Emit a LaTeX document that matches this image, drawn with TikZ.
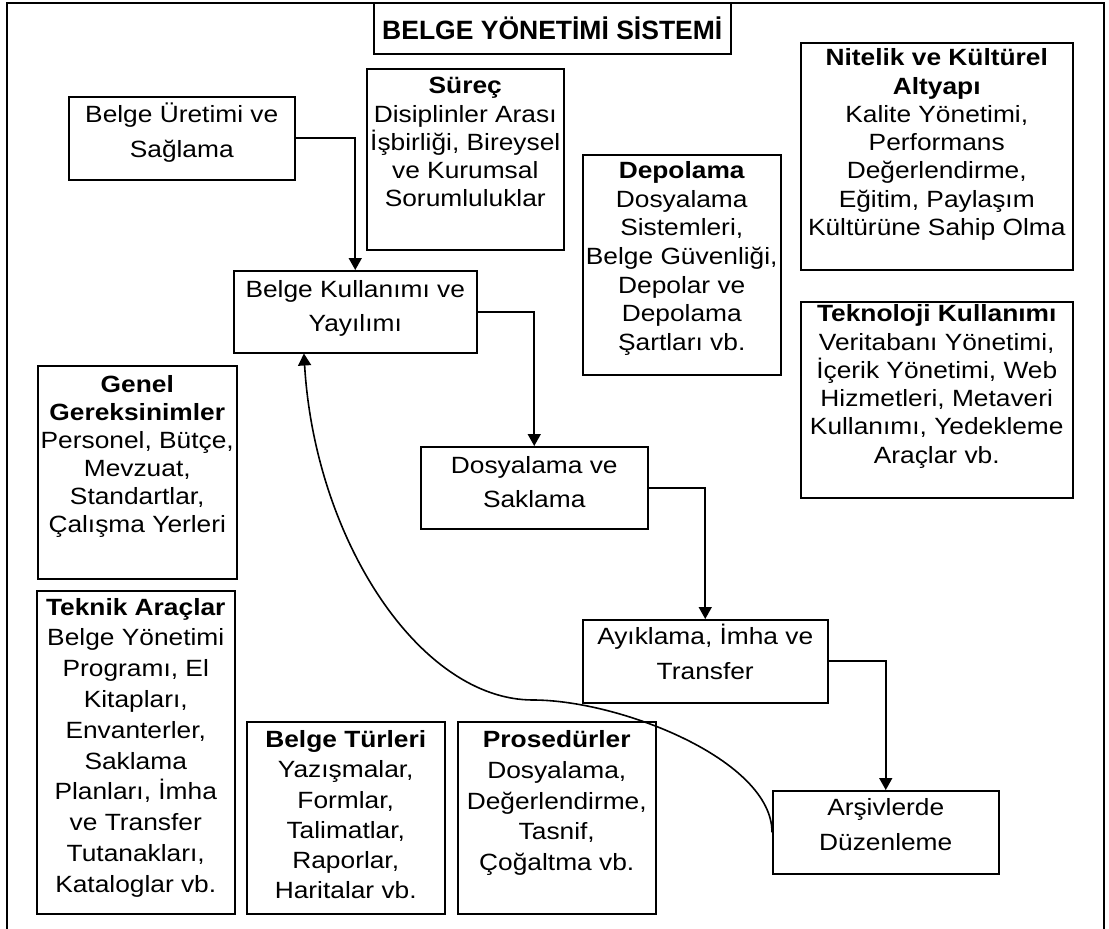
\documentclass[tikz,border=0pt]{standalone}
\usepackage{fontspec}
\setmainfont{Liberation Sans}[FakeStretch=1.12]
\newfontfamily\titlefont{Liberation Sans}
\usetikzlibrary{arrows.meta,calc}

% #1 width, #2 height, #3 first baseline offset, #4 line spacing, #5 lines
\newcommand{\boxlines}[5]{\parbox[t][#2][t]{#1}{\fontsize{23.5}{#4}\selectfont\centering\rule{0pt}{#3}#5\par}}

\tikzset{
  box/.style={draw, line width=1.5pt, inner sep=0pt, anchor=north west},
  conn/.style={line width=1.6pt, -{Triangle[width=13pt,length=12pt]}},
  frame/.style={line width=2.4pt},
}

\begin{document}
\begin{tikzpicture}[x=1pt,y=-1pt]
\useasboundingbox (0,0) rectangle (1109,929);

% outer frame, open at the bottom
\draw[frame] (7,929) -- (7,3) -- (1104,3) -- (1104,929);

% title
\node[box, minimum width=357pt, minimum height=51pt] (title) at (373,2)
  {\titlefont\fontsize{26.5}{30}\selectfont\bfseries BELGE YÖNETİMİ SİSTEMİ};

% life-cycle steps
\node[box] (uretim) at (68,96)
  {\boxlines{226pt}{83pt}{26pt}{35pt}{Belge Üretimi ve\\Sağlama}};
\node[box] (kullanim) at (233,270)
  {\boxlines{243pt}{82pt}{27pt}{34pt}{Belge Kullanımı ve\\Yayılımı}};
\node[box] (dosya) at (420,446)
  {\boxlines{227pt}{82pt}{27pt}{34pt}{Dosyalama ve\\Saklama}};
\node[box] (ayiklama) at (582,619)
  {\boxlines{245pt}{83pt}{25pt}{35pt}{Ayıklama, İmha ve\\Transfer}};
\node[box] (arsiv) at (772,790)
  {\boxlines{226pt}{83pt}{25pt}{35pt}{Arşivlerde\\Düzenleme}};

% supporting components
\node[box] (surec) at (366,68)
  {\boxlines{197pt}{181pt}{25pt}{28.3pt}{\textbf{Süreç}\\Disiplinler Arası\\İşbirliği, Bireysel\\ve Kurumsal\\Sorumluluklar}};
\node[box] (depolama) at (582,154)
  {\boxlines{198pt}{220pt}{24pt}{28.6pt}{\textbf{Depolama}\\Dosyalama\\Sistemleri,\\Belge Güvenliği,\\Depolar ve\\Depolama\\Şartları vb.}};
\node[box] (nitelik) at (800,42)
  {\boxlines{272pt}{227pt}{23pt}{28.3pt}{\textbf{Nitelik ve Kültürel}\\\textbf{Altyapı}\\Kalite Yönetimi,\\Performans\\Değerlendirme,\\Eğitim, Paylaşım\\Kültürüne Sahip Olma}};
\node[box] (teknoloji) at (800,301)
  {\boxlines{272pt}{196pt}{20pt}{28.3pt}{\textbf{Teknoloji Kullanımı}\\Veritabanı Yönetimi,\\İçerik Yönetimi, Web\\Hizmetleri, Metaveri\\Kullanımı, Yedekleme\\Araçlar vb.}};
\node[box] (genel) at (37,365)
  {\boxlines{199pt}{213pt}{26.7pt}{28pt}{\textbf{Genel}\\\textbf{Gereksinimler}\\Personel, Bütçe,\\Mevzuat,\\Standartlar,\\Çalışma Yerleri}};
\node[box] (teknik) at (36,590)
  {\boxlines{198pt}{323pt}{24.3pt}{30.8pt}{\textbf{Teknik Araçlar}\\Belge Yönetimi\\Programı, El\\Kitapları,\\Envanterler,\\Saklama\\Planları, İmha\\ve Transfer\\Tutanakları,\\Kataloglar vb.}};
\node[box] (turler) at (246,721)
  {\boxlines{198pt}{192pt}{25.7pt}{30.3pt}{\textbf{Belge Türleri}\\Yazışmalar,\\Formlar,\\Talimatlar,\\Raporlar,\\Haritalar vb.}};
\node[box] (prosedur) at (457,721)
  {\boxlines{198pt}{192pt}{25.7pt}{30.8pt}{\textbf{Prosedürler}\\Dosyalama,\\Değerlendirme,\\Tasnif,\\Çoğaltma vb.}};

% flow of the life cycle
\draw[conn] (uretim.east) -| (kullanim.north);
\draw[conn] (kullanim.east) -| (dosya.north);
\draw[conn] (dosya.east) -| (ayiklama.north);
\draw[conn] (ayiklama.east) -| (arsiv.north);

% return path back to use and dissemination
\coordinate (kin) at ($(kullanim.south west)!0.29!(kullanim.south east)$);
\draw[conn] (arsiv.west) .. controls (772,760) and (620,700) .. (533,700)
  .. controls (420,700) and (315,540) .. (kin);
\end{tikzpicture}
\end{document}
